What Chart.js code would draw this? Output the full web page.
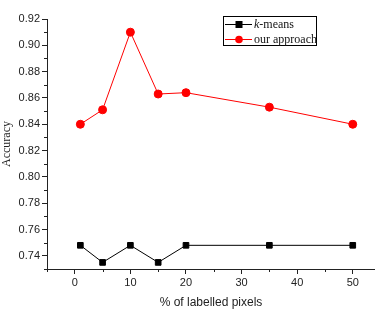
<!DOCTYPE html>
<html>
<head>
<meta charset="utf-8">
<script src="https://cdn.jsdelivr.net/npm/chart.js@4/dist/chart.umd.min.js"></script>
<style>
  body { margin: 0; background: #fff; }
  #wrap { width: 375px; height: 310px; }
</style>
</head>
<body>
<div id="wrap"><canvas id="accChart" width="375" height="310"></canvas></div>
<script>
// labelled pixel percentages
var xValues = [1, 5, 10, 15, 20, 35, 50];
var kmeansValues = [0.748, 0.735, 0.748, 0.735, 0.748, 0.748, 0.748];
var oursValues = [0.840, 0.851, 0.910, 0.863, 0.864, 0.853, 0.840];
var seriesNames = ["k-means", "our approach"];
var xTicks = [0, 10, 20, 30, 40, 50];
var yTicks = [0.74, 0.76, 0.78, 0.80, 0.82, 0.84, 0.86, 0.88, 0.90, 0.92];
var yMinor = [0.73, 0.75, 0.77, 0.79, 0.81, 0.83, 0.85, 0.87, 0.89, 0.91];
var xMinor = [-5, 5, 15, 25, 35, 45];

function toPoints(vals) {
  return xValues.map(function (x, i) { return {x: x, y: vals[i]}; });
}

// minor tick marks + boxed legend
var extras = {
  id: "extras",
  afterDraw: function (chart) {
    var ctx = chart.ctx;
    var xs = chart.scales.x, ys = chart.scales.y;
    ctx.save();
    ctx.strokeStyle = "#222";
    ctx.lineWidth = 1;
    ctx.beginPath();
    yMinor.forEach(function (v) {
      var py = Math.round(ys.getPixelForValue(v)) + 0.5;
      ctx.moveTo(ys.right - 3, py);
      ctx.lineTo(ys.right, py);
    });
    xMinor.forEach(function (v) {
      var px = Math.round(xs.getPixelForValue(v)) + 0.5;
      ctx.moveTo(px, xs.top);
      ctx.lineTo(px, xs.top + 3);
    });
    ctx.stroke();

    // legend
    ctx.strokeStyle = "#000";
    ctx.strokeRect(223.5, 16.5, 93, 29);
    var rows = [
      {y: 24, color: "#000", square: true, name: seriesNames[0]},
      {y: 39, color: "#ff0000", square: false, name: seriesNames[1]}
    ];
    ctx.textBaseline = "middle";
    rows.forEach(function (r) {
      ctx.strokeStyle = r.color;
      ctx.fillStyle = r.color;
      ctx.beginPath();
      ctx.moveTo(225, r.y + 0.5);
      ctx.lineTo(252, r.y + 0.5);
      ctx.stroke();
      if (r.square) {
        ctx.fillRect(235.5, r.y - 3, 7, 7);
      } else {
        ctx.beginPath();
        ctx.arc(239, r.y + 0.5, 3.8, 0, Math.PI * 2);
        ctx.fill();
      }
      ctx.fillStyle = "#111";
      if (r.square) {
        ctx.font = "italic 12px 'Liberation Serif'";
        ctx.fillText("k", 254, r.y + 1);
        var w = ctx.measureText("k").width;
        ctx.font = "12px 'Liberation Serif'";
        ctx.fillText(r.name.slice(1), 254 + w, r.y + 1);
      } else {
        ctx.font = "12px 'Liberation Serif'";
        ctx.fillText(r.name, 254, r.y + 1);
      }
    });
    ctx.restore();
  }
};

new Chart(document.getElementById("accChart"), {
  type: "line",
  data: {
    datasets: [{
      label: seriesNames[0],
      data: toPoints(kmeansValues),
      borderColor: "#000",
      backgroundColor: "#000",
      borderWidth: 1,
      pointStyle: "rect",
      pointRadius: 4,
      pointHoverRadius: 4
    }, {
      label: seriesNames[1],
      data: toPoints(oursValues),
      borderColor: "#ff0000",
      backgroundColor: "#ff0000",
      borderWidth: 1,
      pointStyle: "circle",
      pointRadius: 4,
      pointHoverRadius: 4
    }]
  },
  options: {
    responsive: false,
    animation: false,
    layout: {autoPadding: false, padding: {top: 19, right: 0, left: 0, bottom: 0}},
    plugins: {legend: {display: false}, tooltip: {enabled: false}},
    scales: {
      x: {
        type: "linear",
        min: -5,
        max: 54,
        afterBuildTicks: function (s) {
          s.ticks = xTicks.map(function (v) { return {value: v}; });
        },
        afterFit: function (s) { s.height = 41; },
        grid: {drawOnChartArea: false, tickLength: 5, color: "#222"},
        border: {color: "#222", width: 1},
        ticks: {color: "#222", padding: 2, font: {family: "'Liberation Sans'", size: 11}},
        title: {
          display: true,
          text: "% of labelled pixels",
          color: "#222",
          padding: {top: 4, bottom: 0},
          font: {family: "'Liberation Sans'", size: 12}
        }
      },
      y: {
        min: 0.73,
        max: 0.92,
        afterBuildTicks: function (s) {
          s.ticks = yTicks.map(function (v) { return {value: v}; });
        },
        afterFit: function (s) { s.width = 47; },
        grid: {drawOnChartArea: false, tickLength: 5, color: "#222"},
        border: {color: "#222", width: 1},
        ticks: {
          color: "#222",
          padding: 2,
          font: {family: "'Liberation Sans'", size: 11},
          callback: function (v) { return v.toFixed(2); }
        },
        title: {
          display: true,
          text: "Accuracy",
          color: "#222",
          padding: {top: 0, bottom: 2},
          font: {family: "'Liberation Serif'", size: 12}
        }
      }
    }
  },
  plugins: [extras]
});
</script>
</body>
</html>
